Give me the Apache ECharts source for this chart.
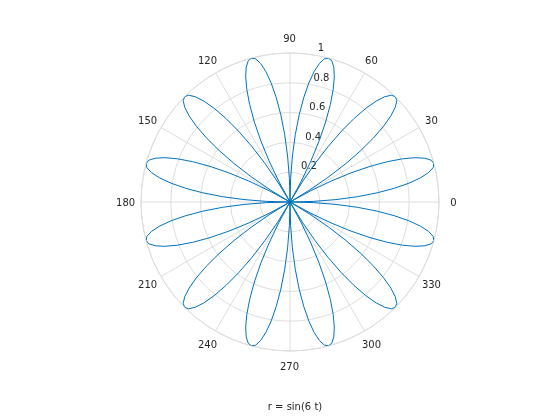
<!DOCTYPE html>
<html><head><meta charset="utf-8">
<script src="https://cdn.jsdelivr.net/npm/echarts@6/dist/echarts.min.js"></script>
<style>html,body{margin:0;padding:0;background:#fff}#c{width:560px;height:420px}</style>
</head><body><div id="c"></div>
<script>
// Angle tick labels (degrees) and radius tick labels
const angleTicks = [0, 30, 60, 90, 120, 150, 180, 210, 240, 270, 300, 330];
const radiusTicks = [0.2, 0.4, 0.6, 0.8, 1];
const xLabel = 'r = sin(6 t)';
// Curve samples: plotted radius at successive angles, 1.5 degrees apart, from 0 to 360
const thetaStepDeg = 1.5;
const rValues = [
0,0.156,0.309,0.454,0.588,0.707,0.809,0.891,0.951,0.988,1,0.988,0.951,0.891,0.809,0.707,0.588,0.454,0.309,0.156,
0,0.156,0.309,0.454,0.588,0.707,0.809,0.891,0.951,0.988,1,0.988,0.951,0.891,0.809,0.707,0.588,0.454,0.309,0.156,
0,0.156,0.309,0.454,0.588,0.707,0.809,0.891,0.951,0.988,1,0.988,0.951,0.891,0.809,0.707,0.588,0.454,0.309,0.156,
0,0.156,0.309,0.454,0.588,0.707,0.809,0.891,0.951,0.988,1,0.988,0.951,0.891,0.809,0.707,0.588,0.454,0.309,0.156,
0,0.156,0.309,0.454,0.588,0.707,0.809,0.891,0.951,0.988,1,0.988,0.951,0.891,0.809,0.707,0.588,0.454,0.309,0.156,
0,0.156,0.309,0.454,0.588,0.707,0.809,0.891,0.951,0.988,1,0.988,0.951,0.891,0.809,0.707,0.588,0.454,0.309,0.156,
0,0.156,0.309,0.454,0.588,0.707,0.809,0.891,0.951,0.988,1,0.988,0.951,0.891,0.809,0.707,0.588,0.454,0.309,0.156,
0,0.156,0.309,0.454,0.588,0.707,0.809,0.891,0.951,0.988,1,0.988,0.951,0.891,0.809,0.707,0.588,0.454,0.309,0.156,
0,0.156,0.309,0.454,0.588,0.707,0.809,0.891,0.951,0.988,1,0.988,0.951,0.891,0.809,0.707,0.588,0.454,0.309,0.156,
0,0.156,0.309,0.454,0.588,0.707,0.809,0.891,0.951,0.988,1,0.988,0.951,0.891,0.809,0.707,0.588,0.454,0.309,0.156,
0,0.156,0.309,0.454,0.588,0.707,0.809,0.891,0.951,0.988,1,0.988,0.951,0.891,0.809,0.707,0.588,0.454,0.309,0.156,
0,0.156,0.309,0.454,0.588,0.707,0.809,0.891,0.951,0.988,1,0.988,0.951,0.891,0.809,0.707,0.588,0.454,0.309,0.156,
0
];

const curve = rValues.map((r, i) => [r, i * thetaStepDeg]);
const FONT = 'DejaVu Sans';
const TXT = '#262626';
const GRID = '#dedede';
const CX = 290, CY = 202, R = 149;

const chart = echarts.init(document.getElementById('c'), null, {renderer: 'canvas'});
chart.setOption({
  animation: false,
  backgroundColor: '#ffffff',
  title: {
    text: xLabel, left: CX, top: 397, textAlign: 'center',
    textStyle: {fontFamily: FONT, fontSize: 10, fontWeight: 'normal', color: TXT}
  },
  polar: [
    {center: [CX, CY], radius: R},
    {center: [CX, CY], radius: R},
    {center: [CX, CY], radius: R * 1.1}
  ],
  angleAxis: [
    {
      polarIndex: 0, type: 'value', min: 0, max: 360, interval: 30,
      startAngle: 0, clockwise: false,
      axisLine: {show: true, lineStyle: {color: GRID, width: 1}},
      axisTick: {show: false},
      splitLine: {show: true, lineStyle: {color: GRID, width: 1}},
      axisLabel: {show: false}
    },
    {
      polarIndex: 1, type: 'value', min: 0, max: 360,
      startAngle: 82, clockwise: false, show: false
    },
    {
      polarIndex: 2, type: 'value', min: 0, max: 360,
      startAngle: 0, clockwise: false, show: false
    }
  ],
  radiusAxis: [
    {
      polarIndex: 0, type: 'value', min: 0, max: 1, interval: 0.2,
      axisLine: {show: false}, axisTick: {show: false},
      axisLabel: {show: false},
      splitLine: {show: true, lineStyle: {color: GRID, width: 1}}
    },
    {
      polarIndex: 1, type: 'value', min: 0, max: 1, interval: 0.2,
      axisLine: {show: false}, axisTick: {show: false},
      splitLine: {show: false},
      axisLabel: {
        show: true, margin: -7, align: 'left', verticalAlign: 'bottom',
        padding: [0, 0, 2, 0],
        fontFamily: FONT, fontSize: 10, color: TXT,
        formatter: v => (radiusTicks.some(t => Math.abs(t - v) < 1e-9) ? String(Math.round(v * 10) / 10) : '')
      }
    },
    {
      polarIndex: 2, type: 'value', min: 0, max: 1, show: false
    }
  ],
  series: [
    {
      type: 'line', coordinateSystem: 'polar', polarIndex: 0,
      data: curve, showSymbol: false, symbol: 'none', smooth: false,
      lineStyle: {color: '#0072BD', width: 1},
      silent: true, z: 5
    },
    {
      // angle tick labels, centred on a ring just outside the plot
      type: 'scatter', coordinateSystem: 'polar', polarIndex: 2,
      data: angleTicks.map(a => [1, a]), symbol: 'circle', symbolSize: 1,
      itemStyle: {color: 'rgba(0,0,0,0)'},
      silent: true,
      label: {
        show: true, position: [0, 0], offset: [0, 2], align: 'center', verticalAlign: 'middle',
        fontFamily: FONT, fontSize: 10, color: TXT,
        textBorderWidth: 0, textBorderColor: 'transparent', opacity: 1,
        formatter: p => String(p.value[1])
      }
    }
  ]
});
</script>
</body></html>
